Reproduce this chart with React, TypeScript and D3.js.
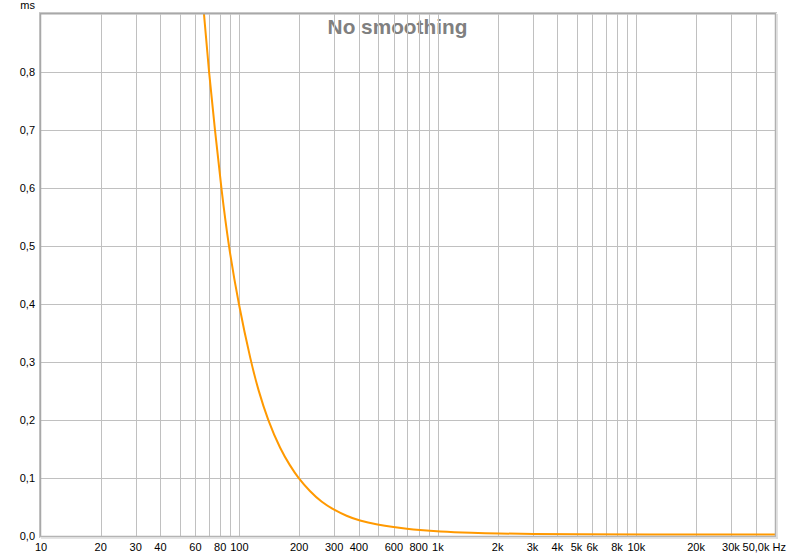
import React from "react";
import * as d3 from "d3";

const freqs = [64.5, 66.3, 70.2, 75.3, 81.0, 88.2, 99, 114.3, 124.4, 139, 161.3, 179.5, 197.8, 226.5, 260, 300, 346.6, 400, 500, 600, 700, 800, 1000, 1500, 2000, 3000, 5000, 10000, 50000];
const delays = [0.95, 0.9, 0.8, 0.7, 0.6, 0.5, 0.4, 0.3, 0.252, 0.2, 0.1485, 0.122, 0.1, 0.077, 0.058, 0.0449, 0.0345, 0.0265, 0.0195, 0.0155, 0.0125, 0.0103, 0.0076, 0.0053, 0.0043, 0.0034, 0.0029, 0.0026, 0.0025];

const xTickValues = [10, 20, 30, 40, 60, 80, 100, 200, 300, 400, 600, 800, 1000, 2000, 3000, 4000, 5000, 6000, 8000, 10000, 20000, 30000];
const xTickLabels = ["10", "20", "30", "40", "60", "80", "100", "200", "300", "400", "600", "800", "1k", "2k", "3k", "4k", "5k", "6k", "8k", "10k", "20k", "30k"];
const yTickValues = [0, 0.1, 0.2, 0.3, 0.4, 0.5, 0.6, 0.7, 0.8];
const yTickLabels = ["0,0", "0,1", "0,2", "0,3", "0,4", "0,5", "0,6", "0,7", "0,8"];
const title = "No smoothing";
const yUnit = "ms";
const lastXLabel = "50,0k Hz";

const W = 795, H = 556;
const L = 41, R = 775, T = 14.5, B = 536;

export default function App() {
  const x = d3.scaleLog().domain([10, 50000]).range([L, R]);
  const y = d3.scaleLinear().domain([0, 0.9]).range([B, T]);

  const gridFreqs: number[] = [];
  for (let dec = 10; dec < 50000; dec *= 10) {
    for (let m = 1; m < 10; m++) {
      const f = dec * m;
      if (f > 10 && f < 50000) gridFreqs.push(f);
    }
  }

  const data = freqs.map((f, i) => [f, delays[i]] as [number, number]);
  const line = d3
    .line<[number, number]>()
    .x((d) => x(d[0]))
    .y((d) => y(d[1]))
    .curve(d3.curveBasis);

  const px = (v: number) => Math.round(v) + 0.5;
  const font = "'Liberation Sans', Arial, sans-serif";

  return (
    <svg width={W} height={H} style={{ position: "absolute", left: 0, top: 0, background: "#fff" }}>
      <defs>
        <clipPath id="plot">
          <rect x={L} y={T - 0.5} width={R - L} height={B - T + 0.5} />
        </clipPath>
      </defs>
      <rect x={0} y={0} width={W} height={H} fill="#fff" />
      <text x={397.5} y={34} textAnchor="middle" fontFamily={font} fontWeight="bold" fontSize={20.8} fill="#808080">
        {title}
      </text>
      {gridFreqs.map((f) => (
        <line key={"vx" + f} x1={px(x(f))} x2={px(x(f))} y1={T} y2={B} stroke="#c0c0c0" strokeWidth={1} />
      ))}
      {yTickValues.slice(1).map((v) => (
        <line key={"hy" + v} x1={L} x2={R} y1={px(y(v))} y2={px(y(v))} stroke="#c0c0c0" strokeWidth={1} />
      ))}
      <path d={line(data) || ""} fill="none" stroke="#ff9900" strokeWidth={2} clipPath="url(#plot)" />
      {/* frame */}
      <line x1={39.5} x2={39.5} y1={12} y2={538} stroke="#c8c8c8" strokeWidth={1} />
      <line x1={40.5} x2={40.5} y1={13} y2={537} stroke="#a8a8a8" strokeWidth={1.5} />
      <line x1={39} x2={777} y1={12.5} y2={12.5} stroke="#c8c8c8" strokeWidth={1} />
      <line x1={40} x2={776} y1={13.8} y2={13.8} stroke="#a8a8a8" strokeWidth={1.5} />
      <line x1={775.5} x2={775.5} y1={13} y2={537} stroke="#b0b0b0" strokeWidth={1.5} />
      <line x1={777} x2={777} y1={14} y2={539} stroke="#d8d8d8" strokeWidth={1.5} />
      <line x1={40} x2={776} y1={536.5} y2={536.5} stroke="#b4b4b4" strokeWidth={1.5} />
      <line x1={41} x2={778} y1={538} y2={538} stroke="#dcdcdc" strokeWidth={1.5} />
      {yTickValues.map((v, i) => (
        <text key={"yl" + v} x={35} y={y(v) + 4} textAnchor="end" fontFamily={font} fontSize={11} fill="#000">
          {yTickLabels[i]}
        </text>
      ))}
      <text x={35} y={9} textAnchor="end" fontFamily={font} fontSize={11} fill="#000">
        {yUnit}
      </text>
      {xTickValues.map((v, i) => (
        <text key={"xl" + v} x={x(v)} y={551} textAnchor="middle" fontFamily={font} fontSize={11} fill="#000">
          {xTickLabels[i]}
        </text>
      ))}
      <text x={786} y={551} textAnchor="end" fontFamily={font} fontSize={11} fill="#000">
        {lastXLabel}
      </text>
    </svg>
  );
}
